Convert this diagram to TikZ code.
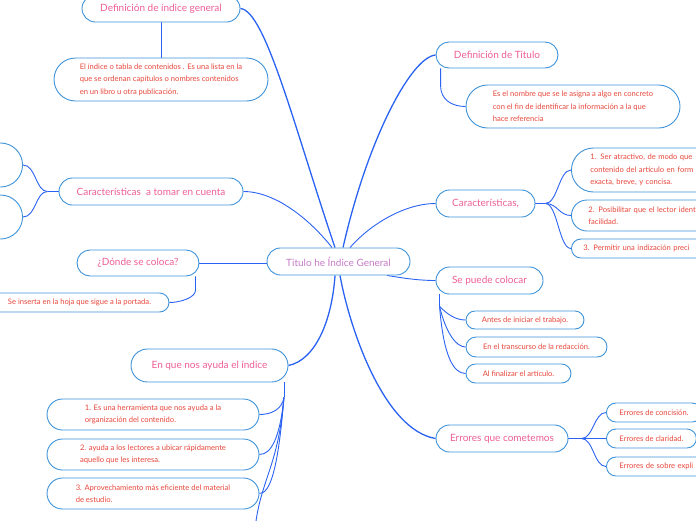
\documentclass[tikz,border=0pt]{standalone}
\usepackage{fontspec}
\setmainfont{Lato}
\usetikzlibrary{calc}
\pgfdeclarelayer{bg}
\pgfsetlayers{bg,main}
\definecolor{bd}{HTML}{3F93D9}
\definecolor{cn}{HTML}{2A62F2}
\definecolor{pk}{HTML}{EE5F96}
\definecolor{pu}{HTML}{C67BC6}
\definecolor{rd}{HTML}{E8473B}
\tikzset{
  box/.style={draw=bd, fill=white, line width=0.9pt, inner sep=0pt, align=center},
  head/.style={box, text=pk, font=\fontsize{10}{12}\selectfont},
  hub/.style={box, text=pu, font=\fontsize{10}{12}\selectfont},
  leaf/.style={box, text=rd, font=\fontsize{7.6}{12.5}\selectfont, align=left},
  conn/.style={draw=cn, line width=0.9pt},
  trunk/.style={draw=cn, line width=1.3pt},
}
\begin{document}
\begin{tikzpicture}[x=1pt,y=-1pt]
\useasboundingbox (0,0) rectangle (696,520);

% central
\node[hub, minimum width=143pt, minimum height=27pt, rounded corners=13.5pt] (central) at (338.5,261.5) {Titulo he Índice General};

% left side
\node[head, minimum width=158pt, minimum height=27pt, rounded corners=13.5pt] (defidx) at (161,8.5) {Definición de índice general};
\node[leaf, minimum width=214pt, minimum height=43pt, rounded corners=21.5pt] (defidxc) at (161,79.5) {El índice o tabla de contenidos . Es una lista en la\\que se ordenan capítulos o nombres contenidos\\en un libro u otra publicación.};

\node[head, minimum width=184pt, minimum height=27pt, rounded corners=13.5pt] (carac) at (151,191.5) {Características\ \ a tomar en cuenta};
\node[leaf, anchor=east, minimum width=200pt, minimum height=44pt, rounded corners=22pt] (caracL1) at (23,165) {};
\node[leaf, anchor=east, minimum width=200pt, minimum height=44pt, rounded corners=22pt] (caracL2) at (23,217) {};

\node[head, minimum width=122pt, minimum height=26pt, rounded corners=13pt] (donde) at (138,263) {¿Dónde se coloca?};
\node[leaf, minimum width=179pt, minimum height=19pt, rounded corners=9.5pt] (dondec) at (79.5,302.5) {Se inserta en la hoja que sigue a la portada.};

\node[head, minimum width=157pt, minimum height=33pt, rounded corners=16.5pt] (ayuda) at (209.5,365.5) {En que nos ayuda el índice};
\node[leaf, minimum width=212pt, minimum height=31pt, rounded corners=15.5pt] (ayuda1) at (153,414.5) {1. Es una herramienta que nos ayuda a la\\organización del contenido.};
\node[leaf, minimum width=212pt, minimum height=31pt, rounded corners=15.5pt] (ayuda2) at (153,454.5) {2. ayuda a los lectores a ubicar rápidamente\\aquello que les interesa.};
\node[leaf, minimum width=212pt, minimum height=31pt, rounded corners=15.5pt] (ayuda3) at (153,493.5) {3. Aprovechamiento más eficiente del material\\de estudio.};
\coordinate (ayuda4) at (254,540);

% right side
\node[head, minimum width=122pt, minimum height=26pt, rounded corners=13pt] (deftit) at (497,55) {Definición de Título};
\node[leaf, minimum width=214pt, minimum height=43pt, rounded corners=21.5pt] (deftitc) at (573,106.5) {Es el nombre que se le asigna a algo en concreto\\con el fin de identificar la información a la que\\hace referencia};

\node[head, minimum width=99pt, minimum height=27pt, rounded corners=13.5pt] (car) at (485.5,203.5) {Características,};
\node[leaf, anchor=west, inner xsep=19pt, text width=200pt, minimum height=44pt, rounded corners=22pt] (car1) at (571,170) {1. Ser atractivo, de modo que\\contenido del artículo en form\\exacta, breve, y concisa.};
\node[leaf, anchor=west, inner xsep=17pt, text width=200pt, minimum height=31pt, rounded corners=15.5pt] (car2) at (571,215.5) {2. Posibilitar que el lector ident\\facilidad.};
\node[leaf, anchor=west, inner xsep=12pt, text width=200pt, minimum height=19pt, rounded corners=9.5pt] (car3) at (571,248.5) {3. Permitir una indización preci};

\node[head, minimum width=107pt, minimum height=27pt, rounded corners=13.5pt] (sep) at (489.5,280.5) {Se puede colocar};
\node[leaf, minimum width=118pt, minimum height=18pt, rounded corners=9pt] (sep1) at (525,320) {Antes de iniciar el trabajo.};
\node[leaf, minimum width=141pt, minimum height=20pt, rounded corners=10pt] (sep2) at (536.5,347) {En el transcurso de la redacción.};
\node[leaf, minimum width=105pt, minimum height=19pt, rounded corners=9.5pt] (sep3) at (518.5,373.5) {Al finalizar el artículo.};

\node[head, minimum width=132pt, minimum height=27pt, rounded corners=13.5pt] (err) at (502,438.5) {Errores que cometemos};
\node[leaf, anchor=west, inner xsep=13pt, minimum height=19pt, rounded corners=9.5pt] (err1) at (606,412.5) {Errores de concisión.};
\node[leaf, anchor=west, inner xsep=13pt, minimum height=19pt, rounded corners=9.5pt] (err2) at (606,438.5) {Errores de claridad.};
\node[leaf, anchor=west, inner xsep=13pt, text width=200pt, minimum height=19pt, rounded corners=9.5pt] (err3) at (606,466.5) {Errores de sobre expli};

\begin{pgfonlayer}{bg}
% trunk connectors
\draw[trunk] (defidx.east) .. controls +(25,2) and +(-40,-118) .. ([xshift=-3.5pt]central.north);
\draw[trunk] (deftit.west) .. controls +(-24,2) and +(25,-110) .. ([xshift=4.5pt]central.north);
\draw[conn] (carac.east) .. controls +(32,0) and +(-22,-28) .. ([xshift=-6.5pt]central.north);
\draw[conn] (car.west) .. controls +(-31,0) and +(20,-23) .. ([xshift=11.5pt]central.north);
\draw[conn] (donde.east) -- (donde.east -| central.west);
\draw[conn] ([xshift=48.5pt]central.south) .. controls +(18,3) and +(-16,0) .. (sep.west);
\draw[trunk] ([xshift=-3.5pt]central.south) .. controls +(-3,45) and +(27,-5.5) .. (ayuda.east);
\draw[trunk] ([xshift=1.5pt]central.south) .. controls +(10,55) and +(-51,-8.5) .. (err.west);

% left branches
\draw[conn] (defidx.south) -- (defidxc.north);
\coordinate (cf) at ([xshift=-11pt]carac.west);
\draw[conn] (carac.west) -- (cf);
\draw[conn] (cf) .. controls +(-12,0) and +(13,0) .. (caracL1.east);
\draw[conn] (cf) .. controls +(-12,0) and +(13,0) .. (caracL2.east);
\coordinate (dk) at ([xshift=-4pt]donde.south east);
\draw[conn] (dk) -- ++(0,14) .. controls +(0,7) and +(11,0) .. (dondec.east);
\coordinate (af) at ([xshift=-4.5pt]ayuda.south east);
\draw[conn] (af) -- ++(0,15) coordinate (af2);
\draw[conn] (af2) .. controls +(-2,12) and +(12,0) .. (ayuda1.east);
\draw[conn] (af2) .. controls +(-4,40) and +(12,0) .. (ayuda2.east);
\draw[conn] (af2) .. controls +(-6,75) and +(10,0) .. (ayuda3.east);
\draw[conn] (af2) .. controls +(-6,75) and +(4,-60) .. (ayuda4);

% right branches
\coordinate (dtk) at ([xshift=5pt]deftit.south west);
\draw[conn] (dtk) -- ++(0,17) .. controls +(0,14) and +(-14,0) .. (deftitc.west);
\coordinate (cfk) at ([xshift=10pt]car.east);
\draw[conn] (car.east) -- (cfk);
\draw[conn] (cfk) .. controls +(12,0) and +(-12,0) .. (car1.west);
\draw[conn] (cfk) .. controls +(12,0) and +(-12,0) .. (car2.west);
\draw[conn] (cfk) .. controls +(12,0) and +(-12,0) .. (car3.west);
\coordinate (spk) at ([xshift=4pt]sep.south west);
\draw[conn] (spk) -- ++(0,12) coordinate (spk2);
\draw[conn] (spk2) .. controls +(8,8) and +(-10,0) .. (sep1.west);
\draw[conn] (spk2) .. controls +(6,25) and +(-10,0) .. (sep2.west);
\draw[conn] (spk2) .. controls +(4,50) and +(-12,0) .. (sep3.west);
\coordinate (efk) at ([xshift=13pt]err.east);
\draw[conn] (err.east) -- (efk);
\draw[conn] (efk) .. controls +(12,0) and +(-12,0) .. (err1.west);
\draw[conn] (efk) -- (err2.west);
\draw[conn] (efk) .. controls +(12,0) and +(-12,0) .. (err3.west);
\end{pgfonlayer}
\end{tikzpicture}
\end{document}
